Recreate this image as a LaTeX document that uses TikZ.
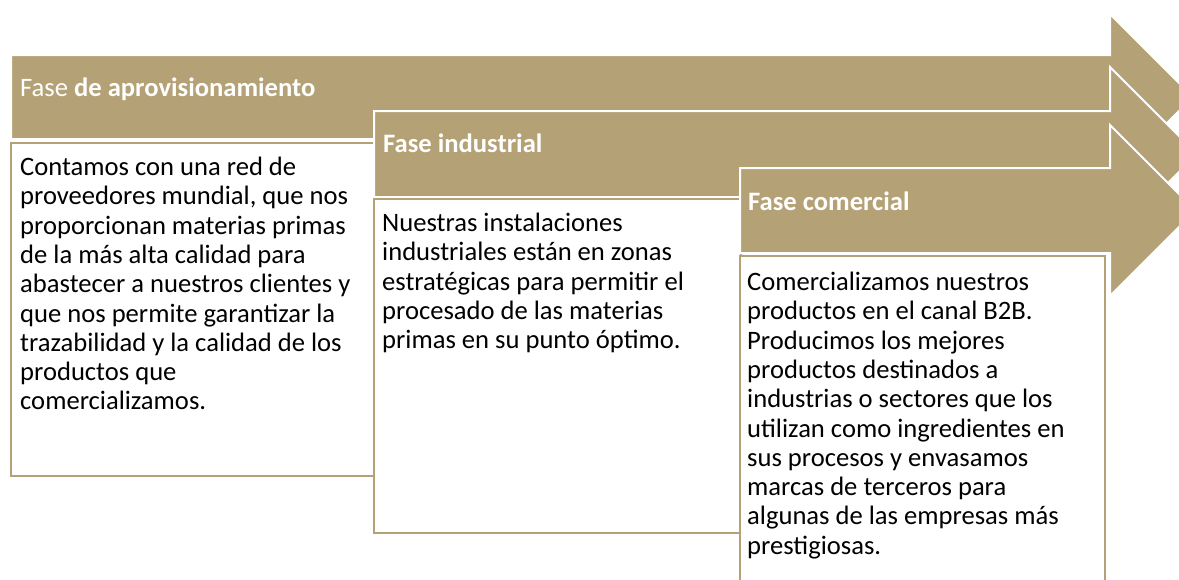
\documentclass[tikz,border=0pt]{standalone}
\usepackage{fontspec}
\setmainfont{Carlito}
\usetikzlibrary{positioning}
\definecolor{oro}{RGB}{180,162,118}

\begin{document}
\begin{tikzpicture}[x=1pt,y=-1pt,
    fase/.style={fill=oro, draw=white, line width=2pt},
    caja/.style={draw=oro, line width=2.5pt, fill=white, inner sep=0pt, outer sep=0pt, anchor=north west},
    titulo/.style={text=white, inner sep=0pt, font=\fontsize{26.6}{29.3}\selectfont},
    texto/.style={text width=350pt, align=flush left, inner sep=0pt, font=\fontsize{26.6}{29.3}\selectfont}]
  \def \fin {1110} % x where the arrow heads start
  \useasboundingbox (0,0) rectangle (1179,579);
  \clip (0,0) rectangle (1179,579);

  % arrows and boxes, back to front
  \foreach \x/\t/\b/\h/\r/\yb/\hb [count=\i] in {11/55/139/14/375/143/333, 374/111/197/67/741/199/334, 740/168/253/125/1105/256/360}{
    \pgfmathsetmacro\m{(\t+\b)/2}
    \pgfmathsetmacro\tip{\fin+\m-\h}
    \pgfmathsetmacro\lo{2*\m-\h}
    \coordinate (f\i) at (\x,\t);
    \draw[fase] (\x,\t) -- (\fin,\t) -- (\fin,\h) -- (\tip,\m) -- (\fin,\lo) -- (\fin,\b) -- (\x,\b) -- cycle;
    \node[caja, minimum width={\r-\x}, minimum height=\hb] (caja\i) at (\x,\yb) {};
  }

  \node[titulo, below right=41pt and 9pt of f1, anchor=base west] (titulo1) {Fase \textbf{de aprovisionamiento}};
  \node[titulo, below right=41pt and 9pt of f2, anchor=base west] (titulo2) {\textbf{Fase industrial}};
  \node[titulo, below right=42pt and 8pt of f3, anchor=base west] (titulo3) {\textbf{Fase comercial}};

  \node[texto, below right=32.5pt and 9pt of caja1.north west, anchor=base west] (texto1) {Contamos con una red de\\ proveedores mundial, que nos\\ proporcionan materias primas\\ de la más alta calidad para\\ abastecer a nuestros clientes y\\ que nos permite garantizar la\\ trazabilidad y la calidad de los\\ productos que\\ comercializamos.};
  \node[texto, below right=32.5pt and 8pt of caja2.north west, anchor=base west] (texto2) {Nuestras instalaciones\\ industriales están en zonas\\ estratégicas para permitir el\\ procesado de las materias\\ primas en su punto óptimo.};
  \node[texto, below right=34.5pt and 7pt of caja3.north west, anchor=base west] (texto3) {Comercializamos nuestros\\ productos en el canal B2B.\\ Producimos los mejores\\ productos destinados a\\ industrias o sectores que los\\ utilizan como ingredientes en\\ sus procesos y envasamos\\ marcas de terceros para\\ algunas de las empresas más\\ prestigiosas.};
\end{tikzpicture}
\end{document}
